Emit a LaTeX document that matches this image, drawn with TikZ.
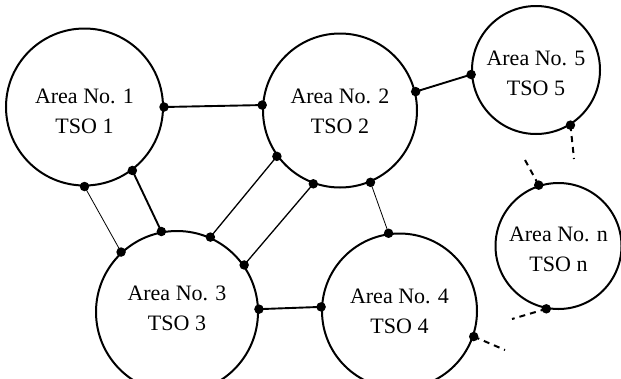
\documentclass[tikz,border=0pt]{standalone}
\usepackage{fontspec}
\setmainfont{Liberation Serif}
\begin{document}
\begin{tikzpicture}[x=1pt,y=-1pt,
  area/.style={circle,draw,line width=2pt,inner sep=0pt},
  lbl/.style={align=center,font=\fontsize{22}{30}\selectfont,inner sep=0pt},
  tie/.style={line width=1.9pt},
  midtie/.style={line width=1.3pt},
  thintie/.style={line width=0.8pt},
  dashtie/.style={line width=2pt,dash pattern=on 6pt off 5pt},
  dot/.style={circle,fill,inner sep=0pt,minimum size=9.5pt}]
\useasboundingbox (0,0) rectangle (621,378);
% areas
\node[area,minimum size=157pt] (c1) at (84.5,107) {};
\node[area,minimum size=154pt] (c2) at (340,110.5) {};
\node[area,minimum size=128pt] (c5) at (536,70) {};
\node[area,minimum size=162pt] (c3) at (177,312) {};
\node[area,minimum size=155pt] (c4) at (399.5,311) {};
\node[area,minimum size=126pt] (cn) at (558.5,246) {};
% labels
\node[lbl] (t1) at (84.5,111) {Area No. 1\\TSO 1};
\node[lbl] (t2) at (340,111) {Area No. 2\\TSO 2};
\node[lbl] (t5) at (536,73) {Area No. 5\\TSO 5};
\node[lbl] (t3) at (177,308) {Area No. 3\\TSO 3};
\node[lbl] (t4) at (399.5,311.5) {Area No. 4\\TSO 4};
\node[lbl] (tn) at (558.5,249) {Area No. n\\TSO n};
% free ends of dashed ties
\coordinate (e5) at (574,159);
\coordinate (sn) at (525,160);
\coordinate (en) at (512,319);
\coordinate (e4) at (505,350);
% ties
\draw[tie] (c1.0.7) -- (c2.176.7);
\draw[tie] (c2.14.2) -- (c5.184.5);
\draw[tie] (c1.-53.1) -- (c3.101.4);
\draw[thintie] (c1.-90.4) -- (c3.133);
\draw[midtie] (c2.216.1) -- (c3.66.6);
\draw[midtie] (c2.250.5) -- (c3.35.6);
\draw[thintie] (c2.-67.5) -- (c4.98.5);
\draw[tie] (c3.2.8) -- (c4.177.8);
\draw[dashtie] (c5.-58.1) -- (e5);
\draw[dashtie] (sn) -- (cn.108);
\draw[dashtie] (cn.259.3) -- (en);
\draw[dashtie] (c4.-19.3) -- (e4);
% connection points
\foreach \p in {c1.0.7,c2.176.7,c2.14.2,c5.184.5,c1.-53.1,c3.101.4,c1.-90.4,c3.133,
  c2.216.1,c3.66.6,c2.250.5,c3.35.6,c2.-67.5,c4.98.5,c3.2.8,c4.177.8,
  c5.-58.1,cn.108,cn.259.3,c4.-19.3}
  \node[dot] at (\p) {};
\end{tikzpicture}
\end{document}
